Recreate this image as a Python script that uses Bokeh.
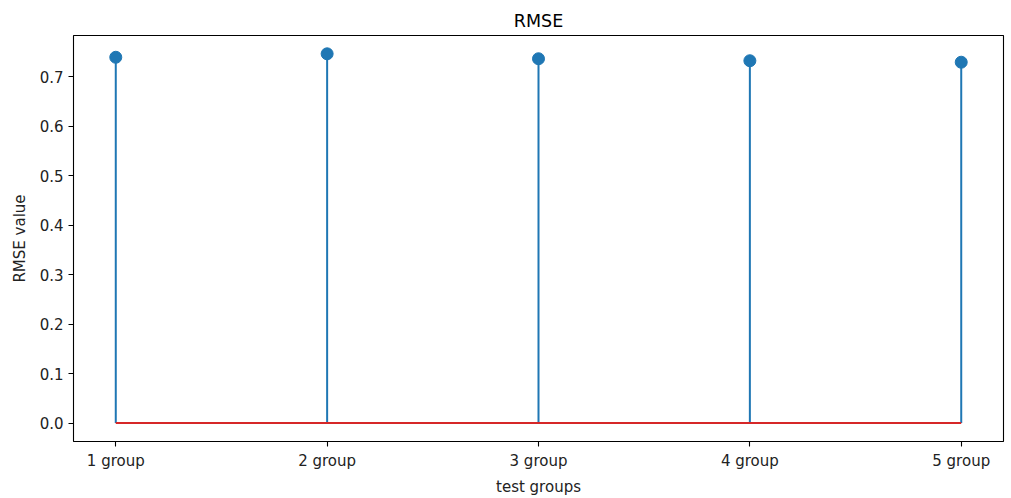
import numpy as np
from bokeh.plotting import figure
from bokeh.models import FixedTicker, Range1d
from bokeh.embed import file_html
from bokeh.resources import INLINE

# test groups and their RMSE values
groups = [1, 2, 3, 4, 5]
group_labels = ["1 group", "2 group", "3 group", "4 group", "5 group"]
rmse = [0.739, 0.746, 0.736, 0.732, 0.729]
y_ticks = [0.0, 0.1, 0.2, 0.3, 0.4, 0.5, 0.6, 0.7]

FONT = "DejaVu Sans"

p = figure(width=1011, height=498, output_backend="svg", toolbar_location=None,
           title="RMSE", x_range=Range1d(0.8, 5.2), y_range=Range1d(-0.0373, 0.7830),
           min_border_left=73, min_border_right=8, min_border_top=35, min_border_bottom=57)

p.title.align = "center"
p.title.text_font = FONT
p.title.text_font_size = "17.5px"
p.title.text_font_style = "normal"
p.title.text_color = "black"
p.title.offset = 0
p.title.standoff = 10

p.xgrid.visible = False
p.ygrid.visible = False
p.outline_line_color = "black"
p.outline_line_width = 1.1
p.outline_line_alpha = 1

for ax in (p.xaxis[0], p.yaxis[0]):
    ax.axis_line_color = None
    ax.major_tick_in = 0
    ax.major_tick_out = 5
    ax.major_tick_line_color = "black"
    ax.major_tick_line_width = 1.1
    ax.minor_tick_line_color = None
    ax.major_label_text_font = FONT
    ax.major_label_text_font_size = "15px"
    ax.major_label_text_color = "#222222"
    ax.axis_label_text_font = FONT
    ax.axis_label_text_font_size = "15px"
    ax.axis_label_text_font_style = "normal"
    ax.axis_label_text_color = "#222222"
    ax.major_label_standoff = 5

p.xaxis.ticker = FixedTicker(ticks=groups)
p.xaxis.major_label_overrides = {g: lbl for g, lbl in zip(groups, group_labels)}
p.xaxis.axis_label = "test groups"
p.xaxis.axis_label_standoff = 5

p.yaxis.ticker = FixedTicker(ticks=y_ticks)
p.yaxis.major_label_overrides = {t: f"{t:.1f}" for t in y_ticks}
p.yaxis.axis_label = "RMSE value"
p.yaxis.axis_label_standoff = 8

# stems
p.segment(x0=groups, y0=[0] * len(groups), x1=groups, y1=rmse,
          line_color="#1f77b4", line_width=2)
# baseline
p.line(x=[min(groups), max(groups)], y=[0, 0], line_color="#d62728", line_width=2)
# markers
p.scatter(x=groups, y=rmse, size=12, fill_color="#1f77b4", line_color="#1f77b4")

open("out.html", "w").write(file_html(p, INLINE))
